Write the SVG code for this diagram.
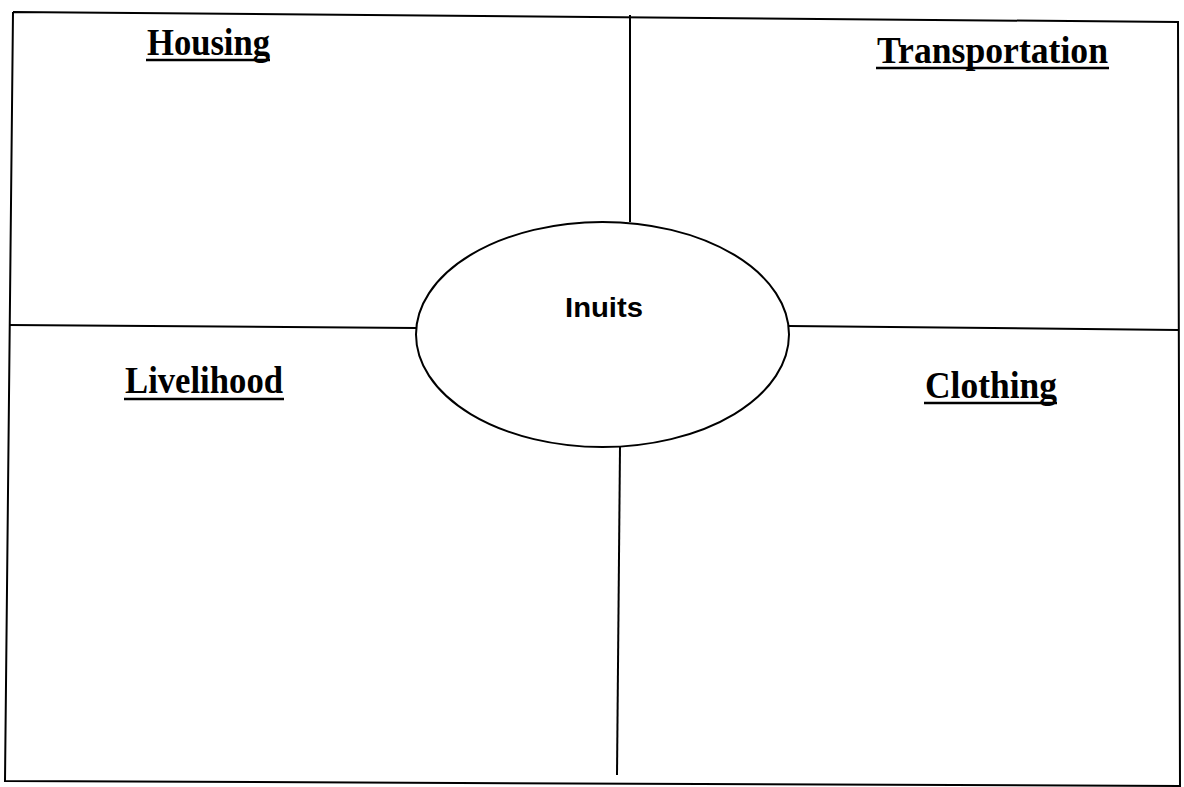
<svg xmlns="http://www.w3.org/2000/svg" width="1184" height="787" viewBox="0 0 1184 787">
<style>
.ln{stroke:#000;stroke-width:2;fill:none}
.ul{stroke:#000;stroke-width:2.5}
.hd{font-family:"Liberation Serif","Times New Roman",serif;font-weight:bold;font-size:38px;fill:#000}
.ct{font-family:"Liberation Sans",Arial,sans-serif;font-weight:bold;font-size:28px;fill:#000}
</style>
<rect width="1184" height="787" fill="#fff"/>
<g id="connectors">
<polyline class="ln" points="13,12 1178,22 1180,786 5,781 13,12"/>
<line class="ln" x1="630" y1="15" x2="630" y2="222"/>
<line class="ln" x1="620" y1="447" x2="617" y2="775"/>
<line class="ln" x1="9" y1="325" x2="416" y2="328"/>
<line class="ln" x1="789" y1="326" x2="1178" y2="330"/>
</g>
<g id="center">
<ellipse class="ln" cx="602.5" cy="334.5" rx="186.5" ry="112.5"/>
<text class="ct" x="604" y="317" text-anchor="middle" textLength="78" lengthAdjust="spacingAndGlyphs">Inuits</text>
</g>
<g id="housing">
<text class="hd" x="147" y="55" textLength="123" lengthAdjust="spacingAndGlyphs">Housing</text>
<line class="ul" x1="146" y1="60" x2="270" y2="60"/>
</g>
<g id="transportation">
<text class="hd" x="877" y="63" textLength="231" lengthAdjust="spacingAndGlyphs">Transportation</text>
<line class="ul" x1="876" y1="68" x2="1109" y2="68"/>
</g>
<g id="livelihood">
<text class="hd" x="125" y="393" textLength="158" lengthAdjust="spacingAndGlyphs">Livelihood</text>
<line class="ul" x1="124" y1="399" x2="284" y2="399"/>
</g>
<g id="clothing">
<text class="hd" x="925" y="398" textLength="132" lengthAdjust="spacingAndGlyphs">Clothing</text>
<line class="ul" x1="924" y1="403" x2="1057" y2="403"/>
</g>
</svg>
